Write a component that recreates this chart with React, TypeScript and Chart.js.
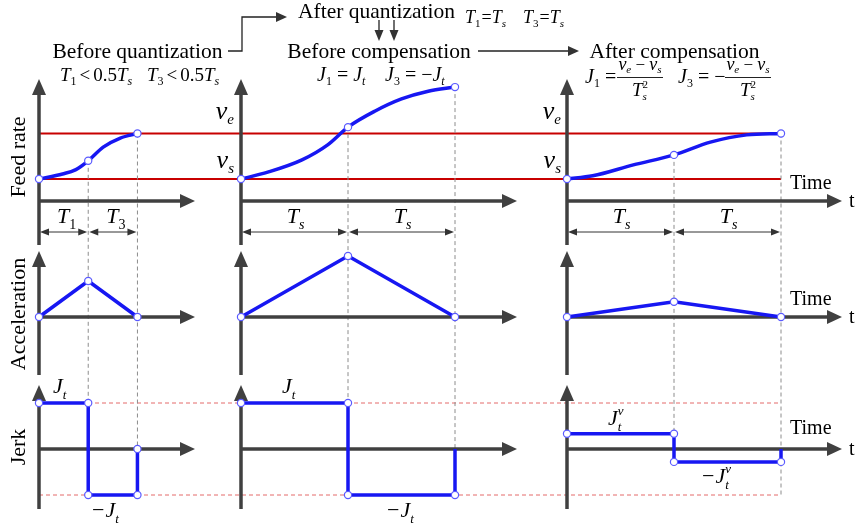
import React, { useEffect, useRef } from 'react';
import { Chart, registerables } from 'chart.js';

Chart.register(...registerables);

// ---------------- data (time in units of Ts, feed rate with vs = 0, ve = 1) ----------------
const vs = 0;
const ve = 1;
const Jt = 1;

// Column 1 : before quantization (T1 = T3 < 0.5 Ts)
const feedT_before = [0, 0.22, 0.34, 0.46, 0.6, 0.76, 0.92];
const feedV_before = [0, 0.11, 0.2, 0.4, 0.7, 0.9, 1.0];
const feedKey_before = [0, 3, 6];
const accT_before = [0, 0.46, 0.92];
const accV_before = [0, 0.59, 0];
const jerkT_before = [0, 0.46, 0.46, 0.92, 0.92];
const jerkV_before = [1, 1, -1, -1, 0];
const jerkKey_before = [0, 1, 2, 3, 4];

// Column 2 : after quantization, before compensation (T1 = T3 = Ts)
const feedT_quant = [0, 0.25, 0.57, 0.81, 1.0, 1.25, 1.5, 1.75, 2.0];
const feedV_quant = [0, 0.15, 0.42, 0.75, 1.14, 1.49, 1.76, 1.93, 2.02];
const feedKey_quant = [0, 4, 8];
const accT_quant = [0, 1, 2];
const accV_quant = [0, 1, 0];
const jerkT_quant = [0, 1, 1, 2, 2];
const jerkV_quant = [1, 1, -1, -1, 0];
const jerkKey_quant = [0, 1, 2, 3];

// Column 3 : after compensation
const feedT_comp = [0, 0.24, 0.62, 1.0, 1.34, 1.68, 2.0];
const feedV_comp = [0, 0.07, 0.31, 0.53, 0.81, 0.97, 1.0];
const feedKey_comp = [0, 3, 6];
const accT_comp = [0, 1, 2];
const accV_comp = [0, 0.25, 0];
const jerkT_comp = [0, 1, 1, 2, 2];
const jerkV_comp = [0.33, 0.33, -0.28, -0.28, 0];
const jerkKey_comp = [0, 1, 2, 3];

// dashed guide lines: [time, feed value, jerk value where the guide ends]
const guides_before = [[0.46, 0.4, -1], [0.92, 1.0, 0]];
const guides_quant = [[1, 1.14, -1], [2, 2.02, 0]];
const guides_comp = [[1, 0.53, -0.28], [2, 1.0, -1]];

// ---------------- layout (pixels) ----------------
const W = 857;
const H = 531;
const TS_PX = 107;
const COL_ORIGIN = [39, 241, 567];
const AXIS_TIP_X = [195, 517, 842];
const FEED_Y0 = 179, FEED_UNIT = 45.5, FEED_AXIS_Y = 201;
const ACC_Y0 = 317, ACC_UNIT = 61;
const JERK_Y0 = 449, JERK_UNIT = 46;
const ROW_V = [[79, 245], [251, 375], [385, 509]];
const DIM_Y = 232;

const BLUE = '#1717f2';
const AXIS = '#404040';
const FONT = '"Liberation Serif", "Times New Roman", serif';
const TITLE_SZ = 21.5;

const X_IDS = ['xa', 'xb', 'xc'];

const columnsData = [
  { feedT: feedT_before, feedV: feedV_before, feedKey: feedKey_before, accT: accT_before, accV: accV_before, jerkT: jerkT_before, jerkV: jerkV_before, jerkKey: jerkKey_before, guides: guides_before },
  { feedT: feedT_quant, feedV: feedV_quant, feedKey: feedKey_quant, accT: accT_quant, accV: accV_quant, jerkT: jerkT_quant, jerkV: jerkV_quant, jerkKey: jerkKey_quant, guides: guides_quant },
  { feedT: feedT_comp, feedV: feedV_comp, feedKey: feedKey_comp, accT: accT_comp, accV: accV_comp, jerkT: jerkT_comp, jerkV: jerkV_comp, jerkKey: jerkKey_comp, guides: guides_comp },
];

function ds(xID: string, yID: string, ts: number[], vals: number[], keys: number[], extra: any = {}) {
  return {
    data: ts.map((t, i) => ({ x: t, y: vals[i] })),
    xAxisID: xID,
    yAxisID: yID,
    showLine: true,
    borderColor: BLUE,
    backgroundColor: BLUE,
    borderWidth: 3.5,
    borderJoinStyle: 'miter',
    pointRadius: ts.map((_, i) => (keys.includes(i) ? 3.6 : 0)),
    pointBackgroundColor: '#ffffff',
    pointBorderColor: '#5a5aff',
    pointBorderWidth: 1.2,
    tension: 0,
    clip: false,
    ...extra,
  };
}

type Part = { s: string; sz: number; it?: boolean; dy?: number; gap?: number; stack?: boolean };

function fnt(p: Part) {
  return `${p.it ? 'italic ' : ''}${p.sz}px ${FONT}`;
}

function rich(ctx: CanvasRenderingContext2D, x: number, y: number, parts: Part[], align: 'left' | 'center' | 'right' = 'left') {
  let cursor = 0;
  let prevStart = 0;
  const xs: number[] = [];
  for (const p of parts) {
    ctx.font = fnt(p);
    const w = ctx.measureText(p.s).width;
    const start = p.stack ? prevStart : cursor + (p.gap || 0);
    xs.push(start);
    if (!p.stack) prevStart = start;
    cursor = Math.max(cursor, start + w);
  }
  const off = align === 'center' ? x - cursor / 2 : align === 'right' ? x - cursor : x;
  ctx.textAlign = 'left';
  ctx.textBaseline = 'alphabetic';
  parts.forEach((p, i) => {
    ctx.font = fnt(p);
    ctx.fillText(p.s, off + xs[i], y + (p.dy || 0));
  });
  return cursor;
}

function arrowHead(ctx: CanvasRenderingContext2D, x: number, y: number, dir: 'up' | 'down' | 'left' | 'right', len: number, half: number) {
  ctx.beginPath();
  if (dir === 'right') { ctx.moveTo(x, y); ctx.lineTo(x - len, y - half); ctx.lineTo(x - len, y + half); }
  if (dir === 'left') { ctx.moveTo(x, y); ctx.lineTo(x + len, y - half); ctx.lineTo(x + len, y + half); }
  if (dir === 'up') { ctx.moveTo(x, y); ctx.lineTo(x - half, y + len); ctx.lineTo(x + half, y + len); }
  if (dir === 'down') { ctx.moveTo(x, y); ctx.lineTo(x - half, y - len); ctx.lineTo(x + half, y - len); }
  ctx.closePath();
  ctx.fill();
}

function line(ctx: CanvasRenderingContext2D, pts: number[][]) {
  ctx.beginPath();
  ctx.moveTo(pts[0][0], pts[0][1]);
  for (let i = 1; i < pts.length; i++) ctx.lineTo(pts[i][0], pts[i][1]);
  ctx.stroke();
}

const diagramPlugin = {
  id: 'diagram',
  beforeDatasetsDraw(chart: any) {
    const ctx: CanvasRenderingContext2D = chart.ctx;
    const s = chart.scales;
    ctx.save();
    // red level lines vs / ve
    const xStart = s.xa.getPixelForValue(0);
    const xEnd = s.xc.getPixelForValue(2);
    ctx.strokeStyle = '#c80000';
    ctx.lineWidth = 2;
    for (const v of [vs, ve]) {
      const y = s.yf.getPixelForValue(v);
      line(ctx, [[xStart, y], [xEnd, y]]);
    }
    // red dashed jerk limits
    ctx.strokeStyle = '#e46a6a';
    ctx.lineWidth = 1;
    ctx.setLineDash([4, 3]);
    for (const v of [Jt, -Jt]) {
      const y = s.yj.getPixelForValue(v);
      line(ctx, [[xStart, y], [xEnd, y]]);
    }
    // grey guides
    ctx.strokeStyle = '#8c8c8c';
    columnsData.forEach((c, ci) => {
      const xs = s[X_IDS[ci]];
      for (const g of c.guides) {
        const x = xs.getPixelForValue(g[0]);
        line(ctx, [[x, s.yf.getPixelForValue(g[1])], [x, s.yj.getPixelForValue(g[2])]]);
      }
    });
    ctx.setLineDash([]);
    // axes
    ctx.strokeStyle = AXIS;
    ctx.fillStyle = AXIS;
    ctx.lineWidth = 3.5;
    const rowAxisY = [FEED_AXIS_Y, s.ya.getPixelForValue(0), s.yj.getPixelForValue(0)];
    COL_ORIGIN.forEach((_, ci) => {
      const x0 = s[X_IDS[ci]].getPixelForValue(0);
      rowAxisY.forEach((ay, ri) => {
        line(ctx, [[x0, ay], [AXIS_TIP_X[ci] - 12, ay]]);
        arrowHead(ctx, AXIS_TIP_X[ci], ay, 'right', 15, 7);
        const [top, bot] = ROW_V[ri];
        line(ctx, [[x0, bot], [x0, top + 12]]);
        arrowHead(ctx, x0, top, 'up', 16, 7);
      });
    });
    // dimension arrows
    ctx.strokeStyle = '#333';
    ctx.fillStyle = '#333';
    ctx.lineWidth = 1;
    columnsData.forEach((c, ci) => {
      const xs = s[X_IDS[ci]];
      const k = c.accT;
      for (let i = 0; i < k.length - 1; i++) {
        const a = xs.getPixelForValue(k[i]) + 1;
        const b = xs.getPixelForValue(k[i + 1]) - 1;
        line(ctx, [[a + 4, DIM_Y], [b - 4, DIM_Y]]);
        arrowHead(ctx, a, DIM_Y, 'left', 9, 3.5);
        arrowHead(ctx, b, DIM_Y, 'right', 9, 3.5);
      }
    });
    ctx.restore();
  },
  afterDatasetsDraw(chart: any) {
    const ctx: CanvasRenderingContext2D = chart.ctx;
    const s = chart.scales;
    ctx.save();
    ctx.fillStyle = '#000';
    ctx.strokeStyle = '#222';
    ctx.lineWidth = 1.3;

    // top titles and connectors
    rich(ctx, 137.5, 58, [{ s: 'Before quantization', sz: TITLE_SZ }], 'center');
    line(ctx, [[228, 51], [242, 51], [242, 17], [276, 17]]);
    ctx.fillStyle = '#333';
    arrowHead(ctx, 287, 17, 'right', 11, 5);
    ctx.fillStyle = '#000';
    rich(ctx, 298, 18, [{ s: 'After quantization', sz: TITLE_SZ }]);
    rich(ctx, 465, 23, [{ s: 'T', sz: 18, it: true }, { s: '1', sz: 11, dy: 4 }, { s: '=', sz: 18, gap: 1 }, { s: 'T', sz: 18, it: true }, { s: 's', sz: 11, it: true, dy: 4 }]);
    rich(ctx, 523, 23, [{ s: 'T', sz: 18, it: true }, { s: '3', sz: 11, dy: 4 }, { s: '=', sz: 18, gap: 1 }, { s: 'T', sz: 18, it: true }, { s: 's', sz: 11, it: true, dy: 4 }]);
    ctx.fillStyle = '#333';
    for (const ax of [379, 394]) {
      line(ctx, [[ax, 20], [ax, 32]]);
      arrowHead(ctx, ax, 41, 'down', 11, 4.5);
    }
    ctx.fillStyle = '#000';
    rich(ctx, 379, 58, [{ s: 'Before compensation', sz: TITLE_SZ }], 'center');
    line(ctx, [[478, 51], [568, 51]]);
    ctx.fillStyle = '#333';
    arrowHead(ctx, 579, 51, 'right', 11, 5);
    ctx.fillStyle = '#000';
    rich(ctx, 674.5, 58, [{ s: 'After compensation', sz: TITLE_SZ }], 'center');

    // condition subtitles
    const lt = (n: string): Part[] => [{ s: 'T', sz: 19, it: true }, { s: n, sz: 12, dy: 4 }, { s: '<', sz: 19, gap: 3 }, { s: '0.5', sz: 19, gap: 3 }, { s: 'T', sz: 19, it: true }, { s: 's', sz: 12, it: true, dy: 4 }];
    rich(ctx, 60, 81, lt('1'));
    rich(ctx, 147, 81, lt('3'));
    rich(ctx, 317, 81, [{ s: 'J', sz: 20, it: true }, { s: '1', sz: 12, dy: 4 }, { s: ' = ', sz: 20 }, { s: 'J', sz: 20, it: true }, { s: 't', sz: 12, it: true, dy: 4 }]);
    rich(ctx, 385, 81, [{ s: 'J', sz: 20, it: true }, { s: '3', sz: 12, dy: 4 }, { s: ' = \u2212', sz: 20 }, { s: 'J', sz: 20, it: true }, { s: 't', sz: 12, it: true, dy: 4 }]);
    // fraction formulas
    const frac = (cx: number) => {
      rich(ctx, cx, 70, [{ s: 'v', sz: 18, it: true }, { s: 'e', sz: 11, it: true, dy: 3 }, { s: ' \u2212 ', sz: 17 }, { s: 'v', sz: 18, it: true }, { s: 's', sz: 11, it: true, dy: 3 }], 'center');
      ctx.lineWidth = 1;
      line(ctx, [[cx - 23, 77.5], [cx + 23, 77.5]]);
      rich(ctx, cx, 96, [{ s: 'T', sz: 19, it: true }, { s: '2', sz: 11, dy: -8 }, { s: 's', sz: 11, it: true, dy: 4, stack: true }], 'center');
    };
    rich(ctx, 585, 83, [{ s: 'J', sz: 20, it: true }, { s: '1', sz: 12, dy: 4 }, { s: ' =', sz: 20 }]);
    frac(640);
    rich(ctx, 678, 83, [{ s: 'J', sz: 20, it: true }, { s: '3', sz: 12, dy: 4 }, { s: ' = \u2212', sz: 20 }]);
    frac(748);

    // ve / vs labels
    for (const rx of [234, 561]) {
      rich(ctx, rx, 119, [{ s: 'v', sz: 26, it: true }, { s: 'e', sz: 15, it: true, dy: 5 }], 'right');
      rich(ctx, rx, 168, [{ s: 'v', sz: 26, it: true }, { s: 's', sz: 15, it: true, dy: 5 }], 'right');
    }

    // row labels (rotated)
    const rowLabels: [string, number][] = [['Feed rate', 157], ['Acceleration', 314], ['Jerk', 447]];
    for (const [txt, cy] of rowLabels) {
      ctx.save();
      ctx.translate(19, cy);
      ctx.rotate(-Math.PI / 2);
      ctx.font = `22px ${FONT}`;
      ctx.textAlign = 'center';
      ctx.textBaseline = 'middle';
      ctx.fillText(txt, 0, 0);
      ctx.restore();
    }

    // dimension labels
    const dimSubs = [['1', '3'], ['s', 's'], ['s', 's']];
    columnsData.forEach((c, ci) => {
      const xs = s[X_IDS[ci]];
      const k = c.accT;
      for (let i = 0; i < k.length - 1; i++) {
        const mid = (xs.getPixelForValue(k[i]) + xs.getPixelForValue(k[i + 1])) / 2;
        const sub = dimSubs[ci][i];
        rich(ctx, mid + (ci === 0 ? 3 : 1), 223, [{ s: 'T', sz: 22, it: true }, { s: sub, sz: 14, it: ci > 0, dy: 6 }], 'center');
      }
    });

    // Time / t labels
    const rowAxisY = [FEED_AXIS_Y, s.ya.getPixelForValue(0), s.yj.getPixelForValue(0)];
    const timeBase = [189, 305, 434];
    rowAxisY.forEach((ay, ri) => {
      rich(ctx, 790, timeBase[ri], [{ s: 'Time', sz: 20 }]);
      rich(ctx, 849, ay + 6, [{ s: 't', sz: 20 }]);
    });

    // jerk labels
    const jt: Part[] = [{ s: 'J', sz: 22, it: true }, { s: 't', sz: 13, it: true, dy: 6 }];
    const njt: Part[] = [{ s: '\u2212', sz: 22 }, { s: 'J', sz: 22, it: true, gap: 1 }, { s: 't', sz: 13, it: true, dy: 6 }];
    rich(ctx, 53, 393, jt);
    rich(ctx, 92, 517, njt);
    rich(ctx, 282, 393, jt);
    rich(ctx, 387, 517, njt);
    rich(ctx, 608, 425, [...jt, { s: 'v', sz: 13, it: true, dy: -10, stack: true }]);
    rich(ctx, 702, 483, [...njt, { s: 'v', sz: 13, it: true, dy: -10, stack: true }]);

    ctx.restore();
  },
};

function xScale(origin: number) {
  return { type: 'linear', axis: 'x', display: false, min: -origin / TS_PX, max: (W - origin) / TS_PX };
}
function yScale(y0: number, unit: number) {
  return { type: 'linear', axis: 'y', display: false, min: -(H - y0) / unit, max: y0 / unit };
}

export default function App() {
  const ref = useRef<HTMLCanvasElement>(null);
  useEffect(() => {
    const datasets: any[] = [];
    columnsData.forEach((c, ci) => {
      const xID = X_IDS[ci];
      datasets.push(ds(xID, 'yf', c.feedT, c.feedV, c.feedKey, { cubicInterpolationMode: 'monotone', borderCapStyle: 'round' }));
      datasets.push(ds(xID, 'ya', c.accT, c.accV, [0, 1, 2]));
      datasets.push(ds(xID, 'yj', c.jerkT, c.jerkV, c.jerkKey));
    });
    const chart = new Chart(ref.current as HTMLCanvasElement, {
      type: 'scatter',
      data: { datasets },
      options: {
        animation: false,
        responsive: false,
        maintainAspectRatio: false,
        events: [],
        layout: { padding: 0, autoPadding: false },
        plugins: { legend: { display: false }, tooltip: { enabled: false } },
        scales: {
          xa: xScale(COL_ORIGIN[0]),
          xb: xScale(COL_ORIGIN[1]),
          xc: xScale(COL_ORIGIN[2]),
          yf: yScale(FEED_Y0, FEED_UNIT),
          ya: yScale(ACC_Y0, ACC_UNIT),
          yj: yScale(JERK_Y0, JERK_UNIT),
        } as any,
      } as any,
      plugins: [diagramPlugin],
    } as any);
    return () => chart.destroy();
  }, []);
  return (
    <div style={{ position: 'fixed', left: 0, top: 0, width: W, height: H, background: '#fff' }}>
      <canvas ref={ref} width={W} height={H} style={{ display: 'block', width: W, height: H }} />
    </div>
  );
}
